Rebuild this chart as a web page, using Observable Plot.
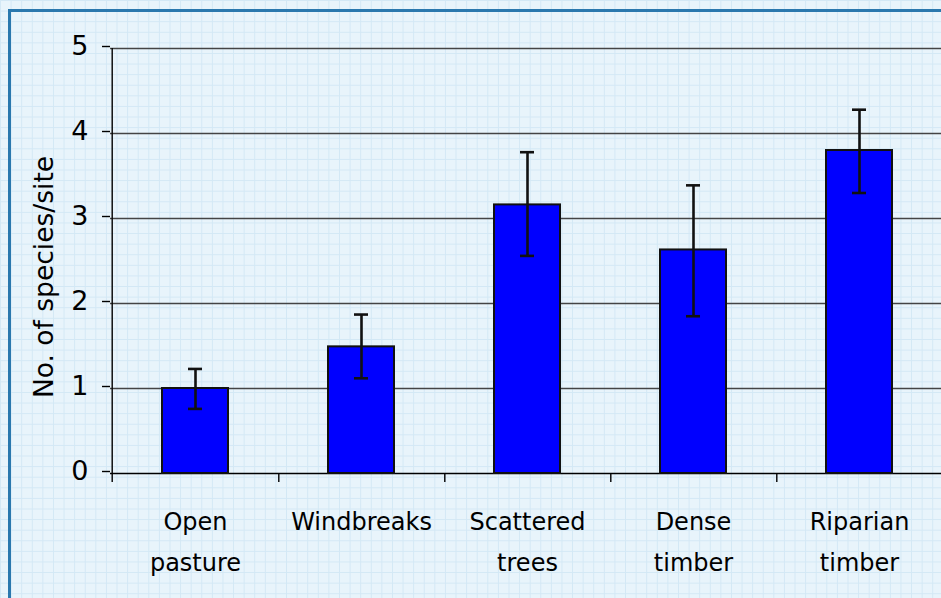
<!DOCTYPE html>
<html>
<head>
<meta charset="utf-8">
<script src="https://cdn.jsdelivr.net/npm/d3@7"></script>
<script src="https://cdn.jsdelivr.net/npm/@observablehq/plot@0.6"></script>
<style>
  html, body { margin: 0; padding: 0; width: 941px; height: 598px; overflow: hidden; }
  body {
    background-color: #e8f4fb;
    background-image:
      linear-gradient(#d3e8f5 1px, transparent 1px),
      linear-gradient(90deg, #d3e8f5 1px, transparent 1px);
    background-size: 10.6px 10.6px;
    position: relative;
  }
  #frame {
    position: absolute; left: 8px; top: 9px; width: 1100px; height: 800px;
    border-left: 3px solid #2a78ae; border-top: 3px solid #2a78ae;
    box-sizing: border-box;
  }
  #chart { position: absolute; left: 0; top: 0; }
  #chart svg { background: transparent; overflow: visible; }
</style>
</head>
<body>
<div id="frame"></div>
<div id="chart"></div>
<script>
const categories = ["Open pasture", "Windbreaks", "Scattered trees", "Dense timber", "Riparian timber"];
const tickLabels = ["Open\npasture", "Windbreaks", "Scattered\ntrees", "Dense\ntimber", "Riparian\ntimber"];
const means = [1.0, 1.49, 3.16, 2.63, 3.80];
const errLow = [0.76, 1.12, 2.56, 1.85, 3.30];
const errHigh = [1.23, 1.87, 3.78, 3.39, 4.28];
const yTicks = [0, 1, 2, 3, 4, 5];
const yLabel = "No. of species/site";

const data = categories.map((c, i) => ({cat: c, label: tickLabels[i], mean: means[i], lo: errLow[i], hi: errHigh[i]}));

const W = 941, H = 598;
const x0 = 110, x1 = 943;
const bw = (x1 - x0) / categories.length;
const font = "DejaVu Sans, sans-serif";

const chart = Plot.plot({
  width: W,
  height: H,
  marginLeft: 110,
  marginTop: 48,
  marginBottom: 125,
  marginRight: 0,
  style: {fontFamily: font, background: "transparent", color: "#000", overflow: "visible"},
  x: {domain: categories, range: [x0, x1], padding: 0, axis: null},
  y: {domain: [0, 5], range: [473, 48]},
  marks: [
    // horizontal gridlines
    Plot.ruleY(yTicks.slice(1), {y: d => d, stroke: "#444", strokeWidth: 1.4}),
    Plot.ruleY([0], {y: d => d, stroke: "#000", strokeWidth: 1.4}),
    // y axis ticks and labels
    Plot.axisY({ticks: yTicks, tickSize: 8, tickPadding: 14, fontSize: 27, tickFormat: d => String(d), label: null, stroke: "#000", strokeWidth: 1.4, dy: -2}),
    // bars
    Plot.barY(data, {x: "cat", y: "mean", fill: "#0000ff", stroke: "#111", strokeWidth: 2, insetLeft: 50, insetRight: 50}),
    // error whiskers
    Plot.ruleX(data, {x: "cat", y1: "lo", y2: "hi", stroke: "#111", strokeWidth: 2.6}),
    Plot.tickY(data, {x: "cat", y: "lo", stroke: "#111", strokeWidth: 2.6, insetLeft: 76, insetRight: 76}),
    Plot.tickY(data, {x: "cat", y: "hi", stroke: "#111", strokeWidth: 2.6, insetLeft: 76, insetRight: 76}),
    // y axis line
    Plot.ruleX([categories[0]], {x: d => d, dx: -bw / 2, y1: 5, y2: -0.105, stroke: "#000", strokeWidth: 1.4}),
    // x category boundary ticks
    Plot.ruleX(categories, {x: d => d, dx: bw / 2, y1: 0, y2: -0.105, stroke: "#000", strokeWidth: 1.4}),
    // x tick labels
    Plot.text(data, {x: "cat", text: "label", frameAnchor: "bottom", lineAnchor: "top", dy: 28, lineHeight: 1.7, fontSize: 24, fill: "#000"}),
    // y axis title
    Plot.text([yLabel], {frameAnchor: "left", textAnchor: "middle", rotate: -90, dx: -66, dy: 16, fontSize: 26.5, fill: "#000"})
  ]
});

document.getElementById("chart").appendChild(chart);
</script>
</body>
</html>
